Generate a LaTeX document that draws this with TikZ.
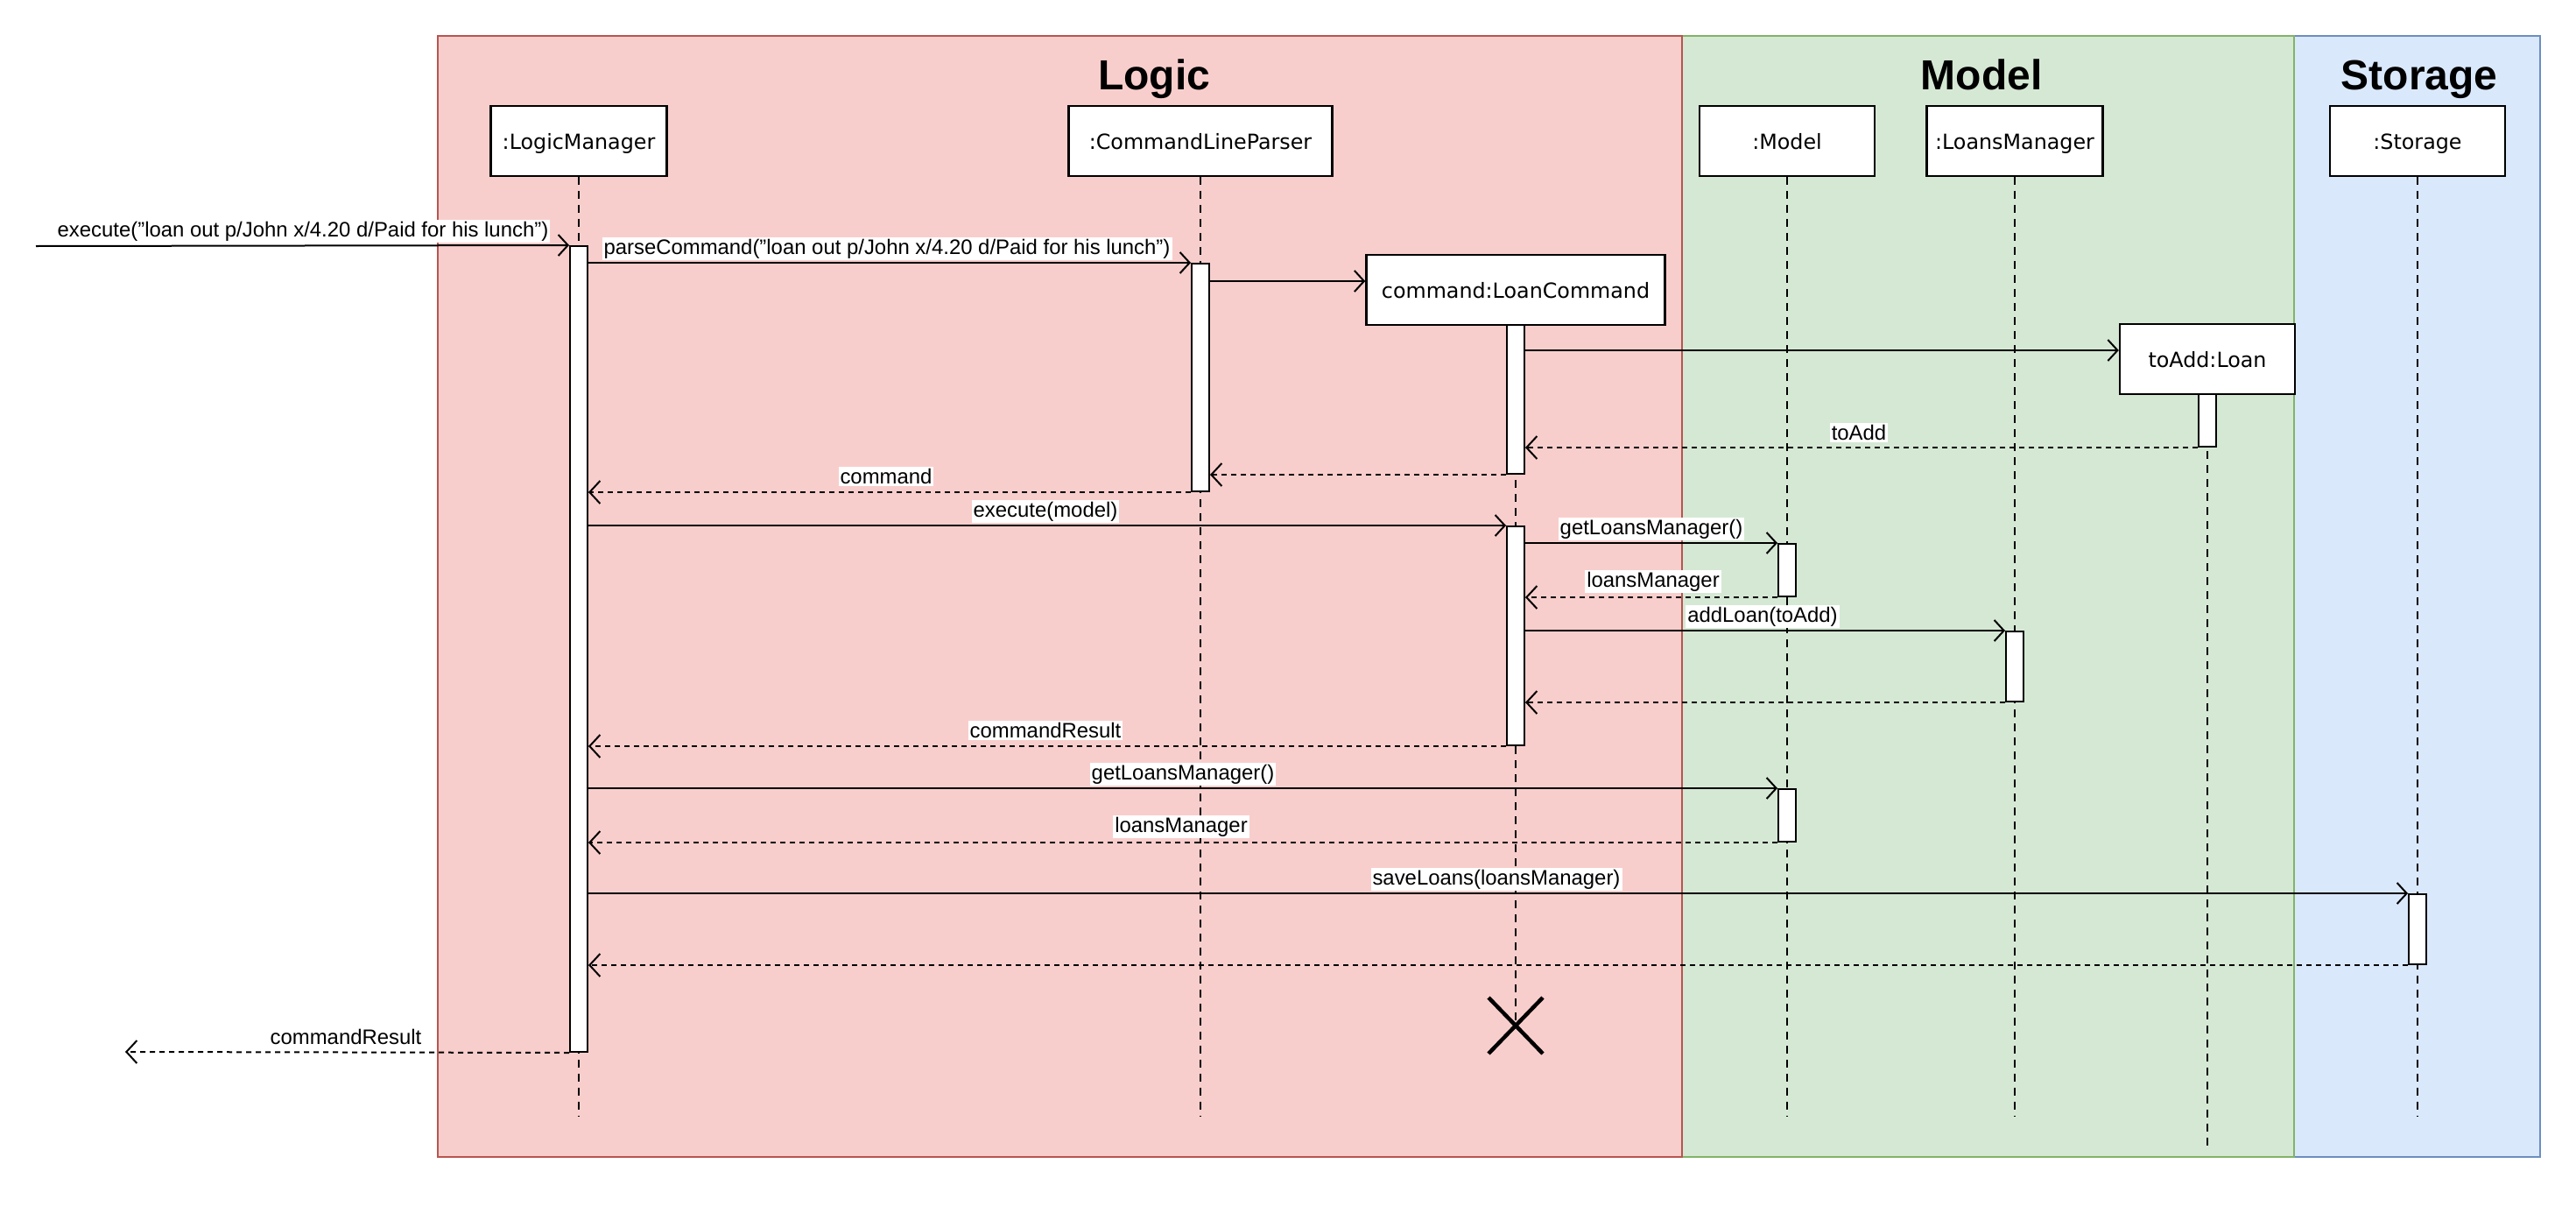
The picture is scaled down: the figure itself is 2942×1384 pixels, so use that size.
\documentclass[tikz,border=0pt]{standalone}
\usepackage{fontspec}
\setmainfont{Liberation Sans}
\newfontfamily\boxfont{DejaVu Sans}
\usetikzlibrary{arrows.meta,calc}
\definecolor{logicfill}{HTML}{F8CECC}
\definecolor{logicdraw}{HTML}{B85450}
\definecolor{modelfill}{HTML}{D5E8D4}
\definecolor{modeldraw}{HTML}{82B366}
\definecolor{storfill}{HTML}{DAE8FC}
\definecolor{stordraw}{HTML}{6C8EBF}
\begin{document}
\begin{tikzpicture}[x=1pt,y=-1pt,
  objbox/.style={draw=black, fill=white, line width=2.5pt, minimum height=80pt, inner sep=0pt, text height=18pt, text depth=0pt, font=\boxfont\fontsize{23.8}{28}\selectfont},
  actbar/.style={draw=black, fill=white, line width=2pt, minimum width=20pt, inner sep=0pt},
  lifeline/.style={draw=black, line width=2pt, dash pattern=on 9pt off 7pt},
  syncmsg/.style={draw=black, line width=2pt, -{Straight Barb[length=11pt,width=24pt]}},
  retmsg/.style={draw=black, line width=2pt, dash pattern=on 6pt off 5pt, -{Straight Barb[length=12pt,width=26pt]}},
  lbl/.style={fill=white, inner sep=2pt, font=\fontsize{23.9}{28}\selectfont},
  title/.style={font=\fontsize{48}{56}\selectfont\bfseries, anchor=base, inner sep=0pt}
]
\useasboundingbox (0,0) rectangle (2942,1384);
\fill[white] (0,0) rectangle (2942,1384);

% frames
\draw[fill=storfill, draw=stordraw, line width=2pt] (2620,41) rectangle (2901,1321);
\draw[fill=modelfill, draw=modeldraw, line width=2pt] (1921,41) rectangle (2620,1321);
\draw[fill=logicfill, draw=logicdraw, line width=2pt] (500,41) rectangle (1921,1321);

\node[title] (tlogic) at (1318,102) {Logic};
\node[title] (tmodel) at (2263,102) {Model};
\node[title] (tstor) at (2763,102) {Storage};

% object heads
\node[objbox, minimum width=201pt] (lm) at (661,161) {:LogicManager};
\node[objbox, minimum width=301pt] (clp) at (1371,161) {:CommandLineParser};
\node[objbox, minimum width=200pt] (mdl) at (2041,161) {:Model};
\node[objbox, minimum width=201pt] (lmgr) at (2301,161) {:LoansManager};
\node[objbox, minimum width=200pt] (stor) at (2761,161) {:Storage};
\node[objbox, minimum width=341pt] (lc) at (1731,331) {command:LoanCommand};
\node[objbox, minimum width=200pt] (loan) at (2521,410) {toAdd:Loan};

% lifeline ends
\coordinate (lmend) at (661,1275);
\coordinate (clpend) at (1371,1275);
\coordinate (mdlend) at (2041,1275);
\coordinate (lmgrend) at (2301,1275);
\coordinate (storend) at (2761,1275);
\coordinate (loanend) at (2521,1308);
\coordinate (xmark) at (1731,1171);

\draw[lifeline] (lm.south) -- (lmend);
\draw[lifeline] (clp.south) -- (clpend);
\draw[lifeline] (mdl.south) -- (mdlend);
\draw[lifeline] (lmgr.south) -- (lmgrend);
\draw[lifeline] (stor.south) -- (storend);
\draw[lifeline] (loan.south) -- (loanend);
\draw[lifeline] (lc.south) -- (xmark);

% activation bars
\node[actbar, minimum height=920pt] (lmbar) at (661,741) {};
\node[actbar, minimum height=260pt] (clpbar) at (1371,431) {};
\node[actbar, minimum height=170pt] (lcbarA) at (1731,456) {};
\node[actbar, minimum height=250pt] (lcbarB) at (1731,726) {};
\node[actbar, minimum height=60pt] (loanbar) at (2521,480) {};
\node[actbar, minimum height=60pt] (mbarA) at (2041,651) {};
\node[actbar, minimum height=80pt] (lmgrbar) at (2301,761) {};
\node[actbar, minimum height=60pt] (mbarB) at (2041,931) {};
\node[actbar, minimum height=80pt] (stbar) at (2761,1061) {};

% destruction mark
\draw[line width=4.5pt] ($(xmark)+(-31,-32)$) -- ($(xmark)+(31,32)$);
\draw[line width=4.5pt] ($(xmark)+(31,-32)$) -- ($(xmark)+(-31,32)$);

% messages
\coordinate (inStart) at (41,281);
\coordinate (outEnd) at (143,1201);

\draw[syncmsg] (inStart) -- (lmbar.north west);
\draw[syncmsg] (lmbar.east |- clpbar.north) -- (clpbar.north west);
\draw[syncmsg] ($(clpbar.east |- lc.west)+(0,-10)$) -- ($(lc.west)+(0,-10)$);
\draw[syncmsg] ($(lcbarA.east |- loan.west)+(0,-10)$) -- ($(loan.west)+(0,-10)$);
\draw[retmsg] (loanbar.south west) -- (lcbarA.east |- loanbar.south);
\draw[retmsg] (lcbarA.south west) -- (clpbar.east |- lcbarA.south);
\draw[retmsg] (clpbar.south west) -- (lmbar.east |- clpbar.south);
\draw[syncmsg] (lmbar.east |- lcbarB.north) -- (lcbarB.north west);
\draw[syncmsg] (lcbarB.east |- mbarA.north) -- (mbarA.north west);
\draw[retmsg] (mbarA.south west) -- (lcbarB.east |- mbarA.south);
\draw[syncmsg] (lcbarB.east |- lmgrbar.north) -- (lmgrbar.north west);
\draw[retmsg] (lmgrbar.south west) -- (lcbarB.east |- lmgrbar.south);
\draw[retmsg] (lcbarB.south west) -- (lmbar.east |- lcbarB.south);
\draw[syncmsg] (lmbar.east |- mbarB.north) -- (mbarB.north west);
\draw[retmsg] (mbarB.south west) -- (lmbar.east |- mbarB.south);
\draw[syncmsg] (lmbar.east |- stbar.north) -- (stbar.north west);
\draw[retmsg] (stbar.south west) -- (lmbar.east |- stbar.south);
\draw[retmsg] (lmbar.south west) -- (outEnd);

% labels
\node[lbl] (l1) at (346,264) {execute("loan out p/John x/4.20 d/Paid for his lunch")};
\node[lbl] (l2) at (1013,284) {parseCommand("loan out p/John x/4.20 d/Paid for his lunch")};
\node[lbl] (l3) at (2123,494) {toAdd};
\node[lbl] (l4) at (1012,544) {command};
\node[lbl] (l5) at (1194,584) {execute(model)};
\node[lbl] (l6) at (1886,604) {getLoansManager()};
\node[lbl] (l7) at (1888,664) {loansManager};
\node[lbl] (l8) at (2013,704) {addLoan(toAdd)};
\node[lbl] (l9) at (1194,834) {commandResult};
\node[lbl] (l10) at (1351,884) {getLoansManager()};
\node[lbl] (l11) at (1349,944) {loansManager};
\node[lbl] (l12) at (1709,1004) {saveLoans(loansManager)};
\node[lbl] (l13) at (395,1184) {commandResult};
\end{tikzpicture}
\end{document}
